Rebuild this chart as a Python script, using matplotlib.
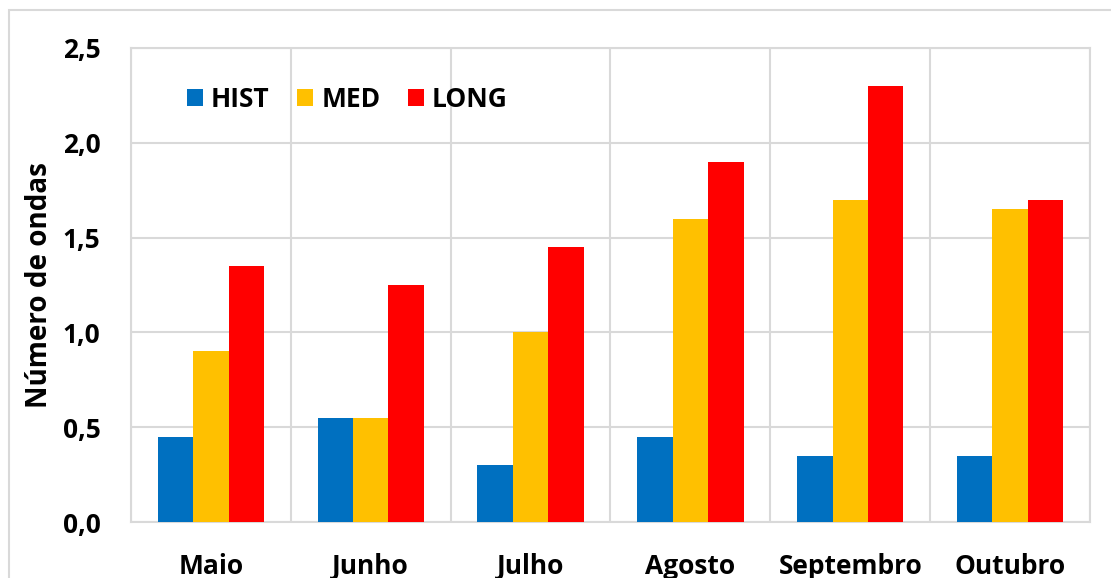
import numpy as np
import matplotlib.pyplot as plt
from matplotlib.patches import Rectangle

# data
months = ['Maio', 'Junho', 'Julho', 'Agosto', 'Septembro', 'Outubro']
hist = [0.45, 0.55, 0.30, 0.45, 0.35, 0.35]
med = [0.90, 0.55, 1.00, 1.60, 1.70, 1.65]
long_ = [1.35, 1.25, 1.45, 1.90, 2.30, 1.70]
yticks = [0.0, 0.5, 1.0, 1.5, 2.0, 2.5]
ytick_labels = ['0,0', '0,5', '1,0', '1,5', '2,0', '2,5']

plt.rcParams['font.family'] = ['Open Sans', 'DejaVu Sans']
plt.rcParams['font.weight'] = 'bold'

W, H = 1111, 578
fig = plt.figure(figsize=(W / 100, H / 100), dpi=100)
ax = fig.add_axes([131 / W, 1 - 522 / H, (1090 - 131) / W, (522 - 48) / H])

grid_c = '#d9d9d9'
x = np.arange(len(months))
bw = 0.222
ax.bar(x - bw, hist, bw, color='#0070c0', label='HIST', zorder=3)
ax.bar(x, med, bw, color='#ffc000', label='MED', zorder=3)
ax.bar(x + bw, long_, bw, color='#ff0000', label='LONG', zorder=3)

ax.set_xlim(-0.5, len(months) - 0.5)
ax.set_ylim(0, 2.5)
ax.set_yticks(yticks)
ax.set_yticklabels(ytick_labels, fontweight='bold')
ax.set_xticks(x)
ax.set_xticklabels(months, fontweight='bold')
ax.tick_params(axis='both', length=0, labelsize=19)
ax.tick_params(axis='x', pad=22)
ax.tick_params(axis='y', pad=22)

ax.grid(axis='y', color=grid_c, lw=1.5, zorder=0)
for b in np.arange(-0.5, len(months), 1.0):
    ax.axvline(b, color=grid_c, lw=1.5, zorder=0)
for s in ax.spines.values():
    s.set_color(grid_c)
    s.set_linewidth(1.5)

ax.set_ylabel('Número de ondas', fontsize=20, fontweight='bold', labelpad=6)

ax.legend(loc='upper left', bbox_to_anchor=(0.034, 0.97), ncol=3, frameon=False,
          prop={'size': 19, 'weight': 'bold'}, handlelength=0.6, handleheight=0.6,
          handletextpad=0.3, columnspacing=1.05)

fig.patches.append(Rectangle((9 / W, -0.1), 1.2, 1 - 10 / H + 0.1,
                             transform=fig.transFigure, fill=False,
                             edgecolor=grid_c, lw=1.5))

fig.savefig('out.png', dpi=100)
